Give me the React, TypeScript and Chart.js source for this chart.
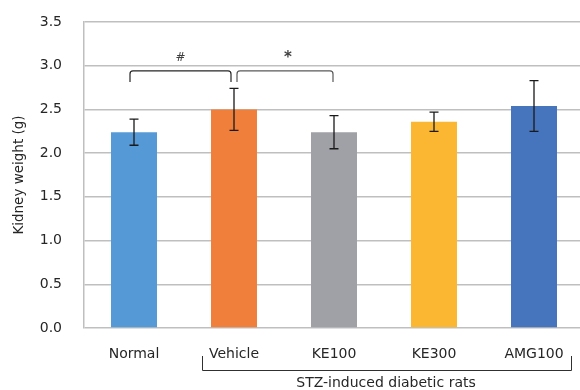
import React, { useEffect, useRef } from "react";
import { Chart, registerables } from "chart.js";

Chart.register(...registerables);

const categories = ["Normal", "Vehicle", "KE100", "KE300", "AMG100"];
const means = [2.24, 2.5, 2.24, 2.36, 2.54];
const sds = [0.15, 0.24, 0.19, 0.11, 0.29];
const colors = ["#559AD6", "#F07F3C", "#A0A1A6", "#FBB731", "#4674BD"];
const yTicks = [0, 0.5, 1.0, 1.5, 2.0, 2.5, 3.0, 3.5];
const yTitle = "Kidney weight (g)";
const groupLabel = "STZ-induced diabetic rats";
const comparisons = [
  { from: 0, to: 1, mark: "#", level: 2.94 },
  { from: 1, to: 2, mark: "*", level: 2.94 },
];

const FONT = "'DejaVu Sans', Verdana, sans-serif";

const overlay = {
  id: "overlay",
  afterDatasetsDraw(chart: any) {
    const ctx = chart.ctx;
    const xs = chart.scales.x;
    const ys = chart.scales.y;
    ctx.save();
    // error bars
    ctx.strokeStyle = "#1a1a1a";
    ctx.lineWidth = 1.3;
    means.forEach((m, i) => {
      const x = xs.getPixelForValue(i);
      const yt = ys.getPixelForValue(m + sds[i]);
      const yb = ys.getPixelForValue(m - sds[i]);
      ctx.beginPath();
      ctx.moveTo(x, yt);
      ctx.lineTo(x, yb);
      ctx.moveTo(x - 4.5, yt);
      ctx.lineTo(x + 4.5, yt);
      ctx.moveTo(x - 4.5, yb);
      ctx.lineTo(x + 4.5, yb);
      ctx.stroke();
    });
    // comparison brackets
    ctx.lineWidth = 1.2;
    const offs = [[-4, -3], [3, -1]];
    const strokeCols = ["#262626", "#595959"];
    comparisons.forEach((c, k) => {
      const x1 = xs.getPixelForValue(c.from) + offs[k][0];
      const x2 = xs.getPixelForValue(c.to) + offs[k][1];
      const yTop = ys.getPixelForValue(c.level);
      const yEnd = yTop + 11;
      const r = 3;
      ctx.strokeStyle = strokeCols[k];
      ctx.beginPath();
      ctx.moveTo(x1, yEnd);
      ctx.lineTo(x1, yTop + r);
      ctx.quadraticCurveTo(x1, yTop, x1 + r, yTop);
      ctx.lineTo(x2 - r, yTop);
      ctx.quadraticCurveTo(x2, yTop, x2, yTop + r);
      ctx.lineTo(x2, yEnd);
      ctx.stroke();
      ctx.fillStyle = "#404040";
      ctx.textAlign = "center";
      ctx.textBaseline = "middle";
      if (c.mark === "*") {
        ctx.font = "bold 15px " + FONT;
        ctx.fillText(c.mark, (x1 + x2) / 2 + 3, yTop - 13);
      } else {
        ctx.font = "12px " + FONT;
        ctx.fillText(c.mark, (x1 + x2) / 2, yTop - 13);
      }
    });
    // group bracket
    const gx1 = xs.getPixelForValue(1) - 32;
    const gx2 = xs.getPixelForValue(4) + 37;
    const gy = 370;
    ctx.strokeStyle = "#303030";
    ctx.lineWidth = 1;
    ctx.beginPath();
    ctx.moveTo(gx1 + 0.5, 356);
    ctx.lineTo(gx1 + 0.5, gy + 0.5);
    ctx.lineTo(gx2 + 0.5, gy + 0.5);
    ctx.lineTo(gx2 + 0.5, 356);
    ctx.stroke();
    ctx.fillStyle = "#262626";
    ctx.font = "14px " + FONT;
    ctx.textAlign = "center";
    ctx.textBaseline = "middle";
    ctx.fillText(groupLabel, 386, 383);
    // y title
    ctx.save();
    ctx.translate(19, 175);
    ctx.rotate(-Math.PI / 2);
    ctx.font = "13.5px " + FONT;
    ctx.fillText(yTitle, 0, 0);
    ctx.restore();
    ctx.restore();
  },
};

export default function App() {
  const ref = useRef<HTMLCanvasElement>(null);
  useEffect(() => {
    const chart = new Chart(ref.current as HTMLCanvasElement, {
      type: "bar",
      data: {
        labels: categories,
        datasets: [
          {
            data: means,
            backgroundColor: colors,
            barPercentage: 0.46,
            categoryPercentage: 1,
          },
        ],
      },
      options: {
        animation: false,
        responsive: false,
        devicePixelRatio: 1,
        layout: { padding: { top: 22, right: 16, bottom: 0, left: 0 } },
        plugins: { legend: { display: false }, tooltip: { enabled: false } },
        scales: {
          x: {
            grid: { display: false, drawTicks: false },
            border: { display: false },
            ticks: {
              color: "#262626",
              font: { family: FONT, size: 14 },
              padding: 18,
              maxRotation: 0,
            },
            afterFit: (s: any) => {
              s.height = 62;
              s.paddingLeft = 0;
              s.paddingRight = 0;
            },
          },
          y: {
            min: 0,
            max: 3.5,
            afterBuildTicks: (s: any) => {
              s.ticks = yTicks.map((v) => ({ value: v }));
            },
            grid: { color: "#BFBFBF", lineWidth: 1.5, drawTicks: false },
            border: { display: true, color: "#BFBFBF", width: 1.5 },
            ticks: {
              color: "#262626",
              font: { family: FONT, size: 14 },
              padding: 22,
              callback: (v: any) => Number(v).toFixed(1),
            },
            afterFit: (s: any) => {
              s.width = 84;
              s.paddingTop = 0;
              s.paddingBottom = 0;
            },
          },
        },
      },
      plugins: [overlay],
    });
    return () => chart.destroy();
  }, []);
  return (
    <div
      style={{
        position: "fixed",
        left: 0,
        top: 0,
        width: 580,
        height: 390,
        overflow: "hidden",
        background: "#fff",
      }}
    >
      <canvas ref={ref} width={600} height={390} style={{ display: "block" }} />
    </div>
  );
}
